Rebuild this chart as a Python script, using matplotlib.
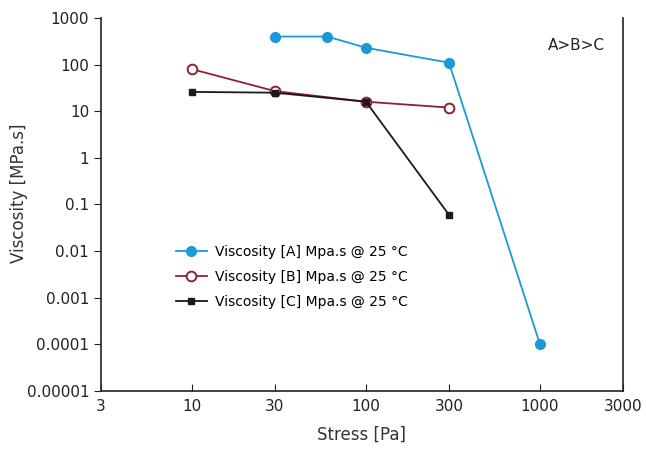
import matplotlib
matplotlib.use("Agg")
import matplotlib.pyplot as plt
from matplotlib.ticker import FixedLocator, NullLocator

stress_a = [30, 60, 100, 300, 1000]
visc_a = [400, 400, 230, 110, 0.0001]
stress_b = [10, 30, 100, 300]
visc_b = [80, 27, 16, 12]
stress_c = [10, 30, 100, 300]
visc_c = [26, 25, 16, 0.06]

x_ticks = [3, 10, 30, 100, 300, 1000, 3000]
x_labels = ["3", "10", "30", "100", "300", "1000", "3000"]
y_ticks = [1e-5, 1e-4, 1e-3, 1e-2, 1e-1, 1, 10, 100, 1000]
y_labels = ["0.00001", "0.0001", "0.001", "0.01", "0.1", "1", "10", "100", "1000"]

plt.rcParams['font.family'] = ['DejaVu Sans']
fig = plt.figure(figsize=(6.46, 4.58), dpi=100)
ax = fig.add_axes([0.1563, 0.1463, 0.8081, 0.8144])

ax.plot(stress_a, visc_a, color="#1a9ad6", lw=1.3, marker="o", ms=7,
        label="Viscosity [A] Mpa.s @ 25 °C")
ax.plot(stress_b, visc_b, color="#8b2232", lw=1.3, marker="o", ms=7,
        mfc="white", mew=1.4, label="Viscosity [B] Mpa.s @ 25 °C")
ax.plot(stress_c, visc_c, color="#1a1a1a", lw=1.3, marker="s", ms=5,
        label="Viscosity [C] Mpa.s @ 25 °C")

ax.set_xscale("log")
ax.set_yscale("log")
ax.set_xlim(3, 3000)
ax.set_ylim(1e-5, 1000)
ax.xaxis.set_major_locator(FixedLocator(x_ticks))
ax.xaxis.set_minor_locator(NullLocator())
ax.set_xticklabels(x_labels)
ax.yaxis.set_major_locator(FixedLocator(y_ticks))
ax.yaxis.set_minor_locator(NullLocator())
ax.set_yticklabels(y_labels)

ax.spines["top"].set_visible(False)
for s in ["left", "bottom", "right"]:
    ax.spines[s].set_color("#222222")
    ax.spines[s].set_linewidth(1.2)
ax.tick_params(axis="x", direction="in", length=5, labelsize=11, colors="#222222", pad=6)
ax.tick_params(axis="y", direction="out", length=5, labelsize=11, colors="#222222")

ax.set_xlabel("Stress [Pa]", fontsize=12, color="#333333", labelpad=8)
# y label placed by hand, the tick labels are wide
fig.text(19 / 646, 1 - 193 / 458, "Viscosity [MPa.s]", rotation=90,
         ha="center", va="center", fontsize=12, color="#333333")

ax.text(0.965, 0.925, "A>B>C", transform=ax.transAxes, ha="right", va="center",
        fontsize=11, color="#222222")

ax.legend(loc="upper left", bbox_to_anchor=(0.12, 0.425), frameon=False,
          fontsize=10, handlelength=2.2, labelspacing=0.8, handletextpad=0.6)

fig.savefig("out.png", dpi=100)
